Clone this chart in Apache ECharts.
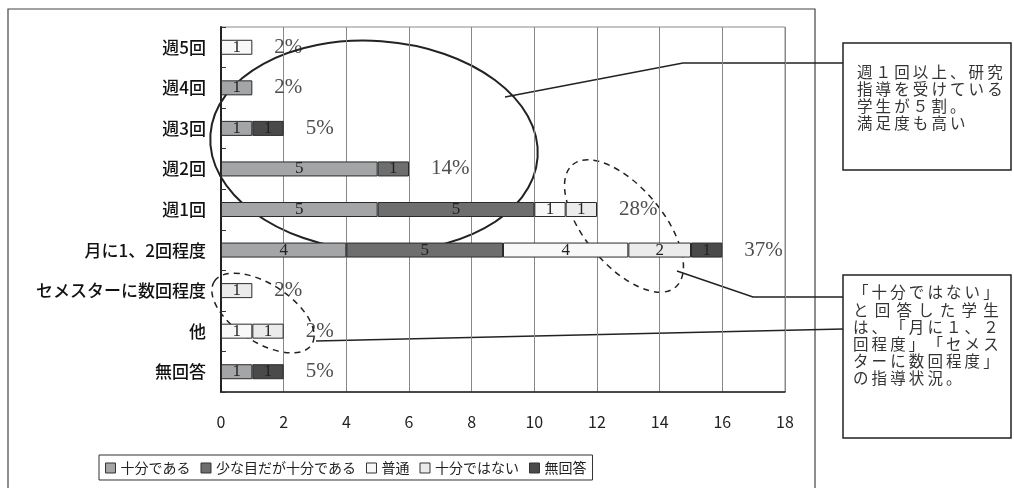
<!DOCTYPE html>
<html>
<head>
<meta charset="utf-8">
<script src="https://cdn.jsdelivr.net/npm/echarts@6/dist/echarts.min.js"></script>
<style>
  html, body { margin: 0; padding: 0; background: #fff; }
  #chart { width: 1014px; height: 488px; }
</style>
</head>
<body>
<div id="chart"></div>
<script>
var categories = ['週5回', '週4回', '週3回', '週2回', '週1回', '月に1、2回程度', 'セメスターに数回程度', '他', '無回答'];
var seriesNames = ['十分である', '少な目だが十分である', '普通', '十分ではない', '無回答'];
var enough = [0, 1, 1, 5, 5, 4, 0, 0, 1];
var fewButEnough = [0, 0, 0, 1, 5, 5, 0, 0, 0];
var normal = [1, 0, 0, 0, 1, 4, 0, 1, 0];
var notEnough = [0, 0, 0, 0, 1, 2, 1, 1, 0];
var noAnswer = [0, 0, 1, 0, 0, 1, 0, 0, 1];
var percents = ['2%', '2%', '5%', '14%', '28%', '37%', '2%', '2%', '5%'];
var xTicks = [0, 2, 4, 6, 8, 10, 12, 14, 16, 18];
var note1 = ['週１回以上、研究', '指導を受けている', '学生が５割。', '満足度も高い'];
var note2 = ['「十分ではない」', 'と回答した学生', 'は、「月に１、２', '回程度」「セメス', 'ターに数回程度」', 'の指導状況。'];

var colors = ['#a3a5a7', '#6e6e6e', '#f8f8f8', '#ebebeb', '#4a4a4a'];
var values = [enough, fewButEnough, normal, notEnough, noAnswer];
var serif = '"Liberation Serif", "DejaVu Serif", serif';
var sans = '"Noto Sans CJK JP", sans-serif';

// fake letter spacing with thin spaces, like the justified note text
function spaced(line, gap) {
  return line.split('').join(gap);
}

var series = values.map(function(arr, i) {
  return {
    name: seriesNames[i],
    type: 'bar',
    stack: 'all',
    barWidth: 15,
    data: arr.map(function(v) { return v === 0 ? '-' : v; }),
    itemStyle: { color: colors[i], borderColor: '#2a2a2a', borderWidth: 1 },
    label: { show: true, position: 'inside', color: '#222', fontFamily: serif, fontSize: 17 }
  };
});

var totals = categories.map(function(_, ci) {
  return values.reduce(function(s, arr) { return s + arr[ci]; }, 0);
});
series.push({
  type: 'scatter',
  symbolSize: 0,
  silent: true,
  data: totals.map(function(t, ci) { return [t, ci]; }),
  label: {
    show: true,
    position: 'right',
    distance: 22,
    color: '#222',
    fontFamily: serif,
    fontSize: 21,
    formatter: function(p) { return percents[p.dataIndex]; }
  }
});

var thin = '\u2009';
var text1 = note1.map(function(l) { return spaced(l, thin); }).join('\n');
var text2 = note2.map(function(l, i) { return spaced(l, i === 1 ? thin + thin : thin); }).join('\n');

var chart = echarts.init(document.getElementById('chart'), null, { renderer: 'canvas' });
chart.setOption({
  animation: false,
  color: colors,
  grid: { left: 221, right: 229, top: 27, bottom: 96, show: true, borderColor: '#888', borderWidth: 1 },
  legend: {
    data: seriesNames,
    left: 99,
    top: 455,
    padding: [6, 6, 5, 6],
    itemWidth: 10,
    itemHeight: 10,
    itemGap: 10,
    borderColor: '#333',
    borderWidth: 1,
    borderRadius: 0,
    icon: 'rect',
    itemStyle: { borderColor: '#333', borderWidth: 1 },
    textStyle: { fontFamily: sans, fontSize: 14, color: '#222' }
  },
  xAxis: {
    type: 'value',
    min: xTicks[0],
    max: xTicks[xTicks.length - 1],
    interval: 2,
    axisLine: { show: true, lineStyle: { color: '#222', width: 1.5 } },
    axisTick: { show: false },
    axisLabel: { color: '#222', fontFamily: sans, fontSize: 16, margin: 22 },
    splitLine: { show: true, lineStyle: { color: '#888', width: 1 } }
  },
  yAxis: {
    type: 'category',
    inverse: true,
    data: categories,
    axisLine: { show: true, lineStyle: { color: '#222', width: 2 } },
    axisTick: { show: true, inside: true, length: 5, lineStyle: { color: '#333' } },
    axisLabel: { color: '#111', fontFamily: sans, fontSize: 17, fontWeight: 500, margin: 15 }
  },
  series: series,
  graphic: [
    { type: 'polyline', shape: { points: [[8, 490], [8, 9], [815, 9], [815, 490]] },
      style: { fill: 'none', stroke: '#444', lineWidth: 1.2 } },
    { type: 'ellipse', x: 374, y: 146, rotation: -4 * Math.PI / 180, shape: { cx: 0, cy: 0, rx: 164, ry: 105 },
      style: { fill: 'none', stroke: '#222', lineWidth: 2 } },
    { type: 'ellipse', x: 624, y: 226, rotation: -50 * Math.PI / 180, shape: { cx: 0, cy: 0, rx: 80, ry: 39 },
      style: { fill: 'none', stroke: '#222', lineWidth: 1.5, lineDash: [6, 5] } },
    { type: 'ellipse', x: 263, y: 313, rotation: -33 * Math.PI / 180, shape: { cx: 0, cy: 0, rx: 58, ry: 29 },
      style: { fill: 'none', stroke: '#222', lineWidth: 1.5, lineDash: [6, 5] } },
    { type: 'polyline', shape: { points: [[505, 97], [683, 63], [843, 63]] },
      style: { fill: 'none', stroke: '#222', lineWidth: 1.5 } },
    { type: 'polyline', shape: { points: [[677, 271], [753, 297], [843, 297]] },
      style: { fill: 'none', stroke: '#222', lineWidth: 1.5 } },
    { type: 'polyline', shape: { points: [[316, 341], [843, 329]] },
      style: { fill: 'none', stroke: '#222', lineWidth: 1.5 } },
    { type: 'rect', shape: { x: 843, y: 43, width: 168, height: 127 },
      style: { fill: '#fff', stroke: '#222', lineWidth: 1.5 } },
    { type: 'text', x: 857, y: 64,
      style: { text: text1, fontFamily: sans, fontSize: 15.5, lineHeight: 17, fill: '#333' } },
    { type: 'rect', shape: { x: 843, y: 275, width: 168, height: 163 },
      style: { fill: '#fff', stroke: '#222', lineWidth: 1.5 } },
    { type: 'text', x: 853, y: 284,
      style: { text: text2, fontFamily: sans, fontSize: 15.5, lineHeight: 17.2, fill: '#333' } }
  ]
});
window.addEventListener('resize', function() { chart.resize(); });
</script>
</body>
</html>
